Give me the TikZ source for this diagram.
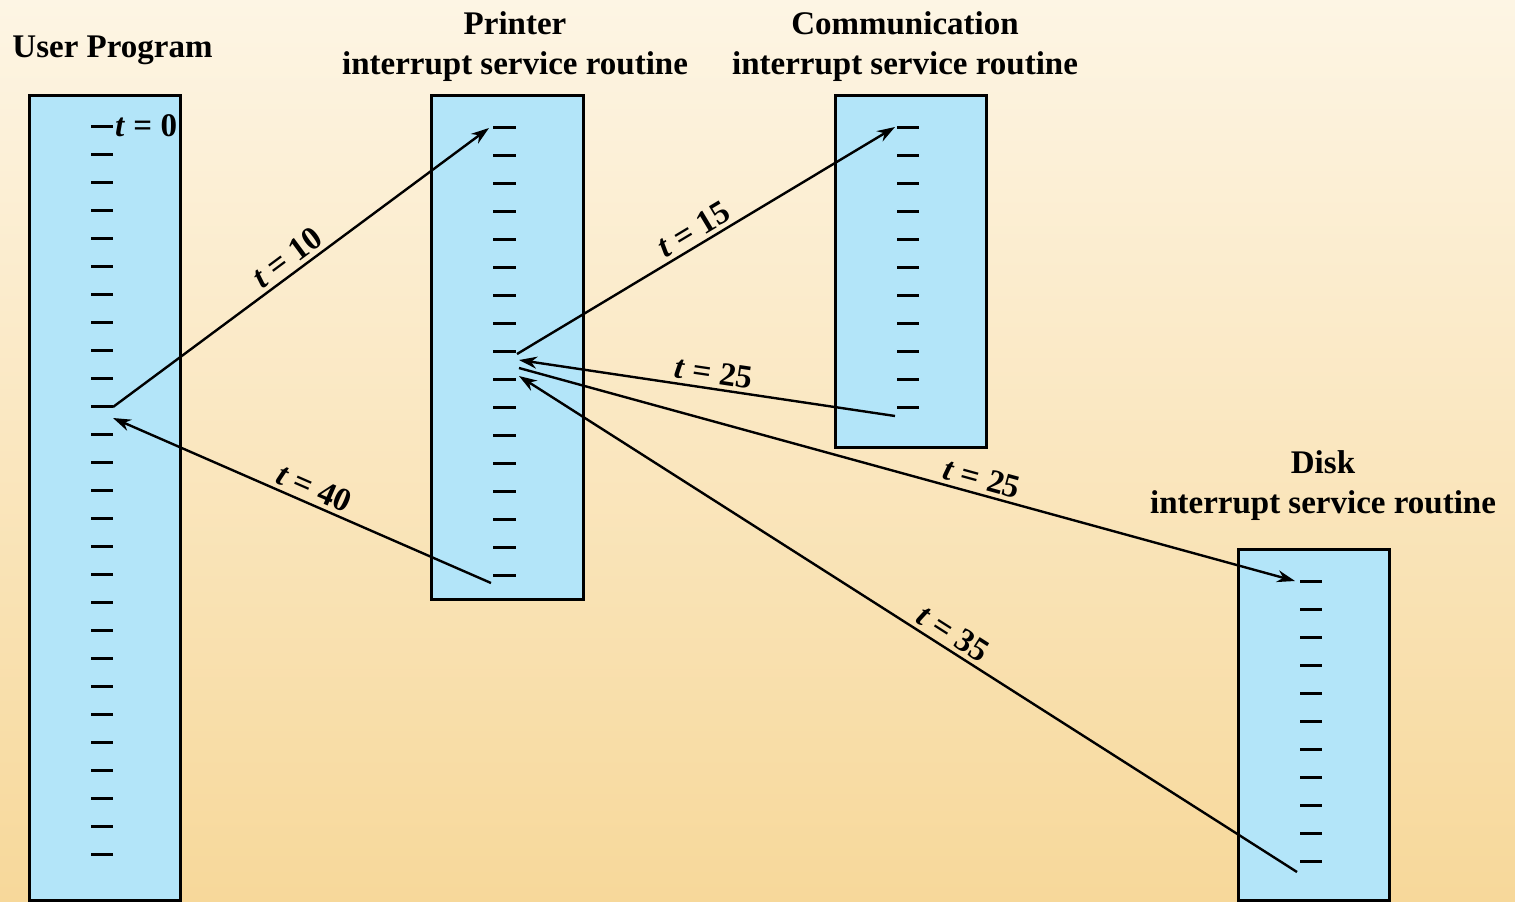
\documentclass[tikz,border=0pt]{standalone}
\usepackage{fontspec}
\setmainfont{Liberation Serif}
\usetikzlibrary{arrows.meta}
\definecolor{bgtop}{RGB}{253,245,228}
\definecolor{bgbot}{RGB}{247,216,154}
\definecolor{boxblue}{RGB}{179,229,249}
\begin{document}
\begin{tikzpicture}[x=1pt,y=1pt,
  box/.style={draw=black, line width=3pt, fill=boxblue, inner sep=0pt, outer sep=0pt},
  tickmark/.style={line width=3pt},
  conn/.style={line width=2.4pt, -{Stealth[length=18pt,width=12pt]}},
  lbl/.style={font=\fontsize{33}{40}\selectfont\bfseries, sloped, anchor=south, inner sep=4pt},
  ttl/.style={font=\fontsize{33}{40}\selectfont\bfseries, align=center, anchor=base, inner sep=0pt}]
\useasboundingbox (0,0) rectangle (1515,-902);
\shade[top color=bgtop, bottom color=bgbot] (0,0) rectangle (1515,-902);

% boxes
\node[box, minimum width=151pt, minimum height=805pt] (user) at (104.5,-497.5) {};
\node[box, minimum width=152pt, minimum height=504pt] (printer) at (507,-347) {};
\node[box, minimum width=151pt, minimum height=352pt] (comm) at (910.5,-271) {};
\node[box, minimum width=151pt, minimum height=351pt] (disk) at (1313.5,-724.5) {};

% ticks
\foreach \i in {0,...,26} \draw[tickmark] (91,-126-28*\i) -- ++(22,0);
\foreach \i in {0,...,16} \draw[tickmark] (493,-127-28*\i) -- ++(23,0);
\foreach \i in {0,...,10} \draw[tickmark] (897,-127-28*\i) -- ++(22,0);
\foreach \i in {0,...,10} \draw[tickmark] (1300,-581-28*\i) -- ++(22,0);

% titles (base anchor = baseline of the last line)
\node[ttl] (tuser) at (112.5,-57) {User Program};
\node[ttl] (tprinter) at (515,-74) {Printer\\interrupt service routine};
\node[ttl] (tcomm) at (905,-74) {Communication\\interrupt service routine};
\node[ttl] (tdisk) at (1323,-513) {Disk\\interrupt service routine};

\node[font=\fontsize{33}{40}\selectfont\bfseries, anchor=base west, inner sep=0pt] (t0) at (115,-136) {\textit{t} = 0};

% connector end points
\coordinate (u10s) at (113,-407);
\coordinate (p10e) at (489,-128);
\coordinate (p40s) at (491,-583);
\coordinate (u40e) at (113,-418);
\coordinate (p15s) at (517,-354);
\coordinate (c15e) at (895,-127);
\coordinate (c25s) at (895,-416);
\coordinate (p25e) at (519,-360);
\coordinate (p25s) at (519,-368);
\coordinate (d25e) at (1295,-581);
\coordinate (d35s) at (1297,-872);
\coordinate (p35e) at (519,-376);

% connectors
\draw[conn] (u10s) -- node[lbl, pos=0.489] {\textit{t} = 10} (p10e);
\draw[conn] (p40s) -- node[lbl, pos=0.485] {\textit{t} = 40} (u40e);
\draw[conn] (p15s) -- node[lbl, pos=0.489] {\textit{t} = 15} (c15e);
\draw[conn] (c25s) -- node[lbl, pos=0.488] {\textit{t} = 25} (p25e);
\draw[conn] (p25s) -- node[lbl, pos=0.591] {\textit{t} = 25} (d25e);
\draw[conn] (d35s) -- node[lbl, pos=0.4536] {\textit{t} = 35} (p35e);
\end{tikzpicture}
\end{document}
